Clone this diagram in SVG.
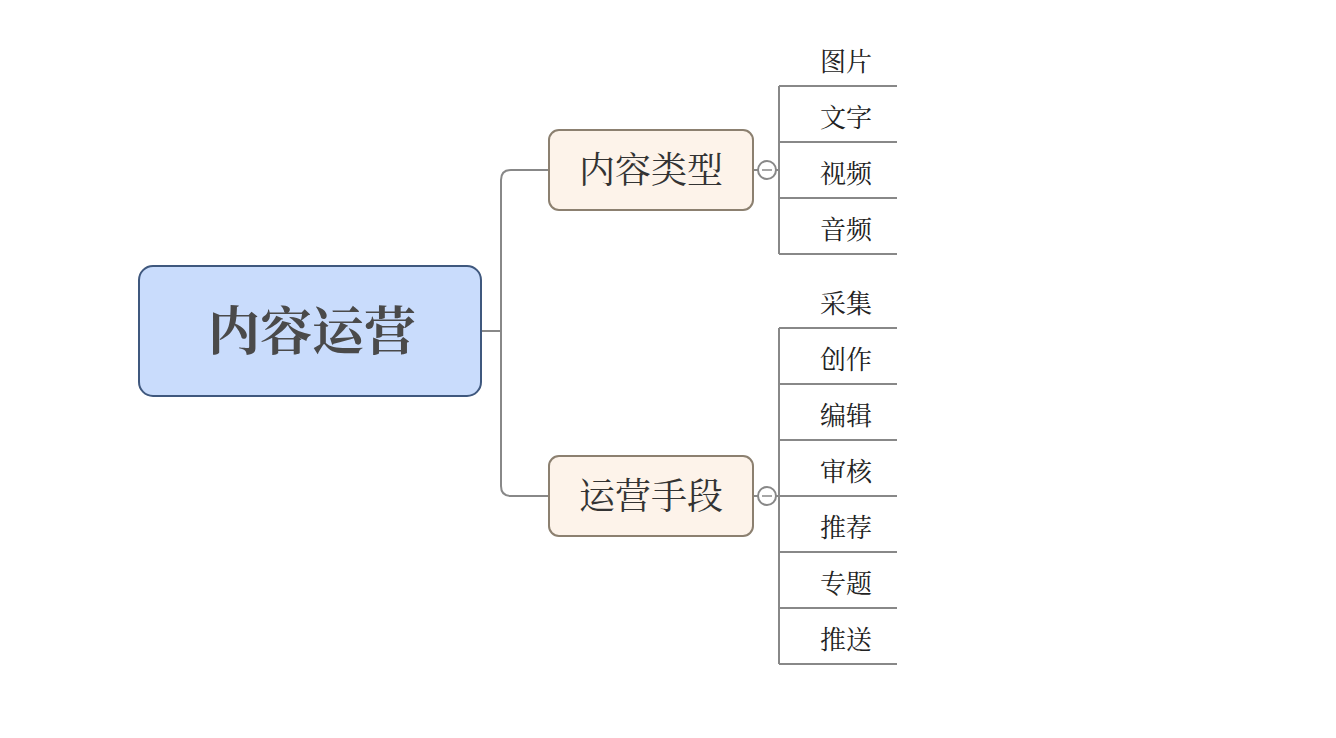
<svg xmlns="http://www.w3.org/2000/svg" width="1336" height="738" viewBox="0 0 1336 738">
<style>
.cn{font-family:"Liberation Serif","Noto Serif CJK SC","Noto Sans CJK SC",serif;text-anchor:middle}
.root{font-size:52px;font-weight:bold;fill:#4a4a4a}
.mid{font-size:36px;fill:#333}
.leaf{font-size:26px;fill:#222}
.ln{fill:none;stroke:#888;stroke-width:2}
.toggle{fill:#fff;stroke:#888;stroke-width:2}
</style>
<rect width="1336" height="738" fill="#fff"/>
<g id="connectors">
<path class="ln" d="M481,331 H501 M549,170 H511 Q501,170 501,180 V486 Q501,496 511,496 H549"/>
<path class="ln" d="M753,170 H779 M779,86 V254 M779,86 H897 M779,142 H897 M779,198 H897 M779,254 H897"/>
<path class="ln" d="M753,496 H779 M779,328 V664 M779,328 H897 M779,384 H897 M779,440 H897 M779,496 H897 M779,552 H897 M779,608 H897 M779,664 H897"/>
<circle class="toggle" cx="767" cy="170" r="9"/>
<line x1="762" y1="170" x2="772" y2="170" stroke="#888" stroke-width="1.5"/>
<circle class="toggle" cx="767" cy="496" r="9"/>
<line x1="762" y1="496" x2="772" y2="496" stroke="#888" stroke-width="1.5"/>
</g>
<g id="root">
<rect x="139" y="266" width="342" height="130" rx="14" fill="#c9dcfc" stroke="#3f587e" stroke-width="2"/>
<text class="cn root" x="312" y="350">内容运营</text>
</g>
<g id="n-type">
<rect x="549" y="130" width="204" height="80" rx="10" fill="#fdf3ea" stroke="#8c8070" stroke-width="2"/>
<text class="cn mid" x="651" y="183">内容类型</text>
</g>
<g id="n-ops">
<rect x="549" y="456" width="204" height="80" rx="10" fill="#fdf3ea" stroke="#8c8070" stroke-width="2"/>
<text class="cn mid" x="651" y="509">运营手段</text>
</g>
<g id="leaf-1"><text class="cn leaf" x="846" y="71">图片</text></g>
<g id="leaf-2"><text class="cn leaf" x="846" y="127">文字</text></g>
<g id="leaf-3"><text class="cn leaf" x="846" y="183">视频</text></g>
<g id="leaf-4"><text class="cn leaf" x="846" y="239">音频</text></g>
<g id="leaf-5"><text class="cn leaf" x="846" y="313">采集</text></g>
<g id="leaf-6"><text class="cn leaf" x="846" y="369">创作</text></g>
<g id="leaf-7"><text class="cn leaf" x="846" y="425">编辑</text></g>
<g id="leaf-8"><text class="cn leaf" x="846" y="481">审核</text></g>
<g id="leaf-9"><text class="cn leaf" x="846" y="537">推荐</text></g>
<g id="leaf-10"><text class="cn leaf" x="846" y="593">专题</text></g>
<g id="leaf-11"><text class="cn leaf" x="846" y="649">推送</text></g>
</svg>
